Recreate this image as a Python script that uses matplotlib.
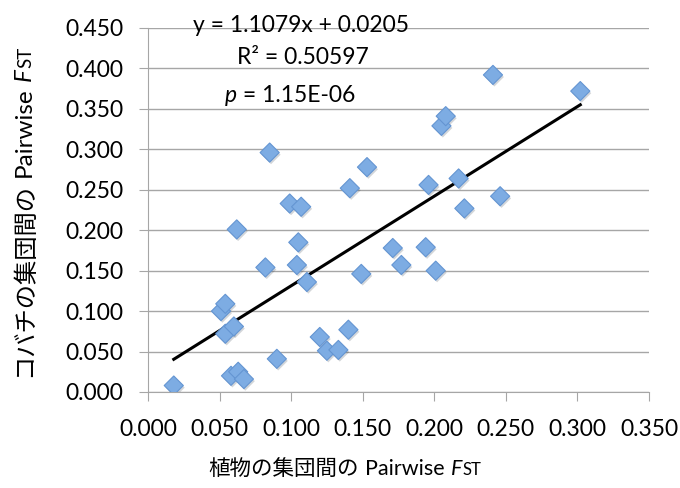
import matplotlib
matplotlib.use('Agg')
import matplotlib.pyplot as plt
import matplotlib.patheffects as pe
from matplotlib.transforms import IdentityTransform
import numpy as np

# 植物 (x) と コバチ (y) の集団間 Pairwise Fst
plant_fst = [0.018, 0.051, 0.054, 0.054, 0.060, 0.058, 0.063, 0.067, 0.062, 0.082,
             0.085, 0.090, 0.099, 0.107, 0.105, 0.104, 0.111, 0.120, 0.125, 0.133,
             0.140, 0.141, 0.149, 0.153, 0.171, 0.177, 0.194, 0.196, 0.201, 0.205,
             0.208, 0.217, 0.221, 0.246, 0.241, 0.302]
wasp_fst = [0.008, 0.100, 0.109, 0.072, 0.081, 0.020, 0.025, 0.016, 0.201, 0.154,
            0.296, 0.041, 0.233, 0.229, 0.185, 0.157, 0.136, 0.068, 0.051, 0.052,
            0.077, 0.252, 0.146, 0.278, 0.178, 0.157, 0.179, 0.256, 0.150, 0.329,
            0.341, 0.264, 0.227, 0.242, 0.392, 0.372]

slope = 1.1079
intercept = 0.0205
eq_text = 'y = 1.1079x + 0.0205'
r2_text = 'R² = 0.50597'
p_text = ' = 1.15E-06'

x_ticks = np.arange(0, 0.351, 0.05)
y_ticks = np.arange(0, 0.451, 0.05)

plt.rcParams['font.family'] = ['Lato', 'Noto Sans CJK JP', 'DejaVu Sans']

fig = plt.figure(figsize=(6.8, 4.88), dpi=100)
ax = fig.add_axes([148/680, 1-392/488, (649-148)/680, (392-28)/488])

grid_col = '#A6A6A6'
fs = 16.5
ax.set_xlim(0, 0.35)
ax.set_ylim(0, 0.45)
ax.set_xticks(x_ticks)
ax.set_yticks(y_ticks)
ax.set_xticklabels(['%.3f' % v for v in x_ticks], fontsize=fs)
ax.set_yticklabels(['%.3f' % v for v in y_ticks], fontsize=fs)
ax.yaxis.grid(True, color=grid_col, linewidth=1)
ax.set_axisbelow(True)
for s in ['top', 'right']:
    ax.spines[s].set_visible(False)
for s in ['left', 'bottom']:
    ax.spines[s].set_color(grid_col)
ax.tick_params(direction='out', length=6.5, color=grid_col)
ax.tick_params(axis='x', pad=13)
ax.tick_params(axis='y', pad=11)

# 回帰直線
xs = np.array([min(plant_fst), max(plant_fst)])
ax.plot(xs, slope*xs + intercept, color='black', linewidth=2.2, zorder=2)

ax.scatter(plant_fst, wasp_fst, marker='D', s=95, facecolor='#7DACE3',
           edgecolor='#6495D2', linewidth=0.8, zorder=3,
           path_effects=[pe.SimplePatchShadow(offset=(1, -1.5), alpha=0.2), pe.Normal()])

fig.canvas.draw()
renderer = fig.canvas.get_renderer()


def place_pieces(pieces, cx, cy, rotation, start=None, va='baseline'):
    # pieces: (text, fontsize, style, gap_before)
    made = []
    pos = 0
    for s, size, st, gap in pieces:
        pos += gap
        t = fig.text(0, 0, s, fontsize=size, style=st, rotation=rotation,
                     rotation_mode='anchor', ha='left', va=va,
                     transform=IdentityTransform())
        bb = t.get_window_extent(renderer)
        length = bb.width if rotation == 0 else bb.height
        made.append((t, pos))
        pos += length
    base = (cx if rotation == 0 else cy) - pos/2 if start is None else start
    for t, p in made:
        if rotation == 0:
            t.set_position((base + p, cy))
        else:
            t.set_position((cx, base + p))


# 回帰式 (pixel 位置)
place_pieces([(eq_text, fs, 'normal', 0)], 301, 488-26, 0, va='center')
place_pieces([(r2_text, fs, 'normal', 0)], 303, 488-57, 0, va='center')
place_pieces([('p', fs, 'italic', 0), (p_text, fs, 'normal', 0)], 0, 488-95, 0,
             start=225, va='center')

label_parts = ['の集団間の', 'Pairwise', 'F', 'ST']
place_pieces([('植物' + label_parts[0], 15.5, 'normal', 0), (label_parts[1], 15.5, 'normal', 6),
              (label_parts[2], 15.5, 'italic', 6), (label_parts[3], 12, 'normal', 0)],
             345, 488-475, 0)
place_pieces([('コバチ' + label_parts[0], 17.5, 'normal', 0), (label_parts[1], 17.5, 'normal', 6),
              (label_parts[2], 17.5, 'italic', 6), (label_parts[3], 13.5, 'normal', 0)],
             31, 488-212, 90)

fig.savefig('out.png', dpi=100)
